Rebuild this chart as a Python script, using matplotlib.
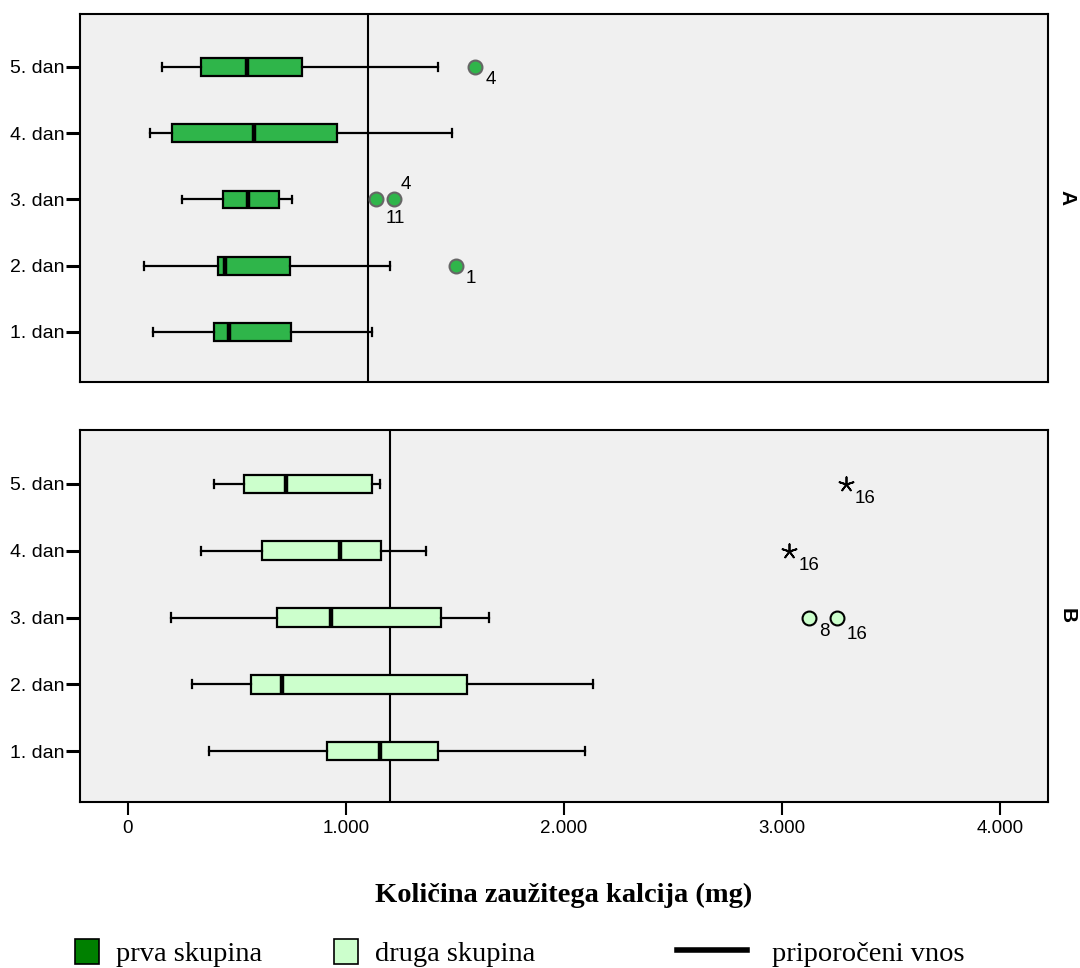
import numpy as np
import matplotlib.pyplot as plt
from matplotlib.patches import Patch
from matplotlib.lines import Line2D

days = ["1. dan", "2. dan", "3. dan", "4. dan", "5. dan"]

# Group A (prva skupina), mg calcium, order 1. dan .. 5. dan
whislo_a = [117, 75, 250, 101, 155]
q1_a = [395, 413, 435, 203, 334]
med_a = [465, 444, 550, 580, 547]
q3_a = [749, 744, 692, 959, 797]
whishi_a = [1120, 1204, 752, 1487, 1422]
out_day_a = [5, 3, 3, 2]
out_val_a = [1593, 1139, 1218, 1503]
out_lab_a = ["4", "11", "4", "1"]
out_kind_a = ["o", "o", "o", "o"]
ref_a = 1100

# Group B (druga skupina)
whislo_b = [372, 293, 199, 334, 394]
q1_b = [913, 563, 683, 616, 531]
med_b = [1155, 705, 932, 972, 727]
q3_b = [1424, 1556, 1436, 1160, 1120]
whishi_b = [2096, 2135, 1654, 1368, 1158]
out_day_b = [5, 4, 3, 3]
out_val_b = [3294, 3034, 3124, 3254]
out_lab_b = ["16", "16", "8", "16"]
out_kind_b = ["*", "*", "o", "o"]
ref_b = 1200

xticks = [0, 1000, 2000, 3000, 4000]
xticklabels = ["0", "1.000", "2.000", "3.000", "4.000"]

# label offsets (points) relative to the outlier marker
off_a = [(11, -9), (14, -14), (9, 11), (11, -9)]
off_b = [(14, -11), (14, -11), (11, -10), (14, -12)]

sans = ["Liberation Sans", "DejaVu Sans"]
serif = ["Liberation Serif", "DejaVu Serif"]
plt.rcParams["font.family"] = sans

fig = plt.figure(figsize=(10.8, 9.68), dpi=100)
ax_a = fig.add_axes([80 / 1080, 1 - 382 / 968, 968 / 1080, 368 / 968])
ax_b = fig.add_axes([80 / 1080, 1 - 802 / 968, 968 / 1080, 372 / 968], sharex=ax_a)


def draw(ax, whislo, q1, med, q3, whishi, oday, oval, olab, okind, offs, fill, fedge, ref, letter):
    stats = []
    for i in range(len(days)):
        stats.append(dict(whislo=whislo[i], q1=q1[i], med=med[i], q3=q3[i],
                          whishi=whishi[i], fliers=[]))
    pos = np.arange(1, len(days) + 1)
    ax.bxp(stats, positions=pos, orientation="horizontal", widths=0.27,
           capwidths=0.12, showfliers=False, patch_artist=True,
           boxprops=dict(facecolor=fill, edgecolor="black", linewidth=1.6),
           medianprops=dict(color="black", linewidth=3.2),
           whiskerprops=dict(color="black", linewidth=1.6),
           capprops=dict(color="black", linewidth=1.6))
    ax.axvline(ref, color="black", linewidth=1.5, zorder=1)
    for d, v, lab, k, off in zip(oday, oval, olab, okind, offs):
        if k == "o":
            ax.scatter([v], [d], s=100, marker="o", facecolor=fill,
                       edgecolor=fedge, linewidth=1.5, zorder=4)
        else:
            ax.scatter([v], [d], s=110, marker=(5, 2, 0), color="black",
                       linewidth=1.3, zorder=4)
        ax.annotate(lab, (v, d), xytext=off, textcoords="offset points",
                    ha="center", va="center", fontsize=13.5)
    ax.set_facecolor("#f0f0f0")
    ax.set_yticks(pos)
    ax.set_yticklabels(days, fontsize=14)
    ax.set_ylim(0.245, 5.8)
    ax.tick_params(axis="y", length=10, width=2.2, pad=1)
    for s in ax.spines.values():
        s.set_linewidth(1.5)
    ax.text(1.02, 0.5, letter, transform=ax.transAxes, rotation=270,
            ha="center", va="center", fontsize=15, fontweight="bold")


draw(ax_a, whislo_a, q1_a, med_a, q3_a, whishi_a, out_day_a, out_val_a,
     out_lab_a, out_kind_a, off_a, "#2fb54a", "#666666", ref_a, "A")
draw(ax_b, whislo_b, q1_b, med_b, q3_b, whishi_b, out_day_b, out_val_b,
     out_lab_b, out_kind_b, off_b, "#ccffcc", "black", ref_b, "B")

ax_b.set_xlim(-220, 4220)
ax_b.set_xticks(xticks)
ax_b.set_xticklabels(xticklabels, fontsize=13.5)
ax_b.tick_params(axis="x", length=9, width=1.5, pad=4)
ax_a.tick_params(axis="x", bottom=False, labelbottom=False)

fig.text(564 / 1080, 1 - 895 / 968, "Količina zaužitega kalcija (mg)",
         ha="center", va="center", fontsize=20.5, fontweight="bold", family=serif)

# legend, three separate entries
leg_y = 1 - 953 / 968
entries = [
    (Patch(facecolor="#008000", edgecolor="black", linewidth=1.2), "prva skupina", 75, 0.85, 0.6),
    (Patch(facecolor="#ccffcc", edgecolor="black", linewidth=1.2), "druga skupina", 334, 0.85, 0.6),
    (Line2D([], [], color="black", linewidth=4), "priporočeni vnos", 677, 2.45, 0.9),
]
for h, lab, xpx, hl, tp in entries:
    fig.legend(handles=[h], labels=[lab], loc="center left",
               bbox_to_anchor=(xpx / 1080, leg_y), frameon=False,
               prop=dict(family=serif, size=20.5), handlelength=hl,
               handleheight=1.0, handletextpad=tp, borderpad=0,
               borderaxespad=0)

fig.savefig("out.png", dpi=100)
